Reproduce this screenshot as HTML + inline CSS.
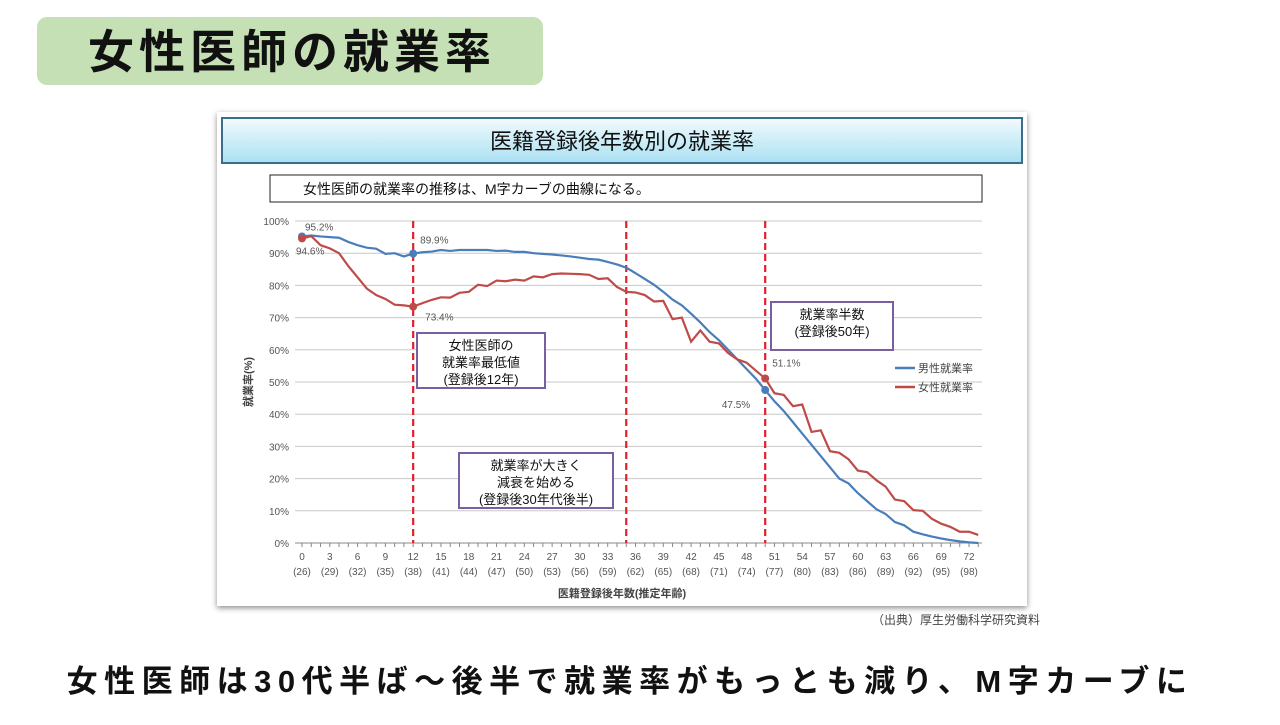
<!DOCTYPE html>
<html><head><meta charset="utf-8"><style>
body{margin:0;background:#fff;width:1280px;height:720px;overflow:hidden;font-family:"Liberation Sans","Noto Sans CJK JP",sans-serif}
</style></head><body>
<svg id="s" width="1280" height="720" xmlns="http://www.w3.org/2000/svg" font-family="Liberation Sans, Noto Sans CJK JP, sans-serif">
<defs>
<linearGradient id="hg" x1="0" y1="0" x2="0" y2="1"><stop offset="0" stop-color="#f2fbfe"/><stop offset="1" stop-color="#a9e0f2"/></linearGradient>
<filter id="sh" x="-5%" y="-5%" width="110%" height="110%"><feDropShadow dx="0" dy="2" stdDeviation="3" flood-color="#000" flood-opacity="0.45"/></filter>
</defs>
<rect x="37" y="17" width="506" height="68" rx="10" fill="#c5e0b4"/>
<text x="292" y="68" font-size="46" font-weight="bold" letter-spacing="5" text-anchor="middle" fill="#111">女性医師の就業率</text>
<rect x="217" y="112" width="810" height="494" fill="#fff" filter="url(#sh)"/>
<rect x="222" y="118" width="800" height="45" fill="url(#hg)" stroke="#3c6e8c" stroke-width="2"/>
<text x="622" y="149" font-size="22" text-anchor="middle" fill="#111">医籍登録後年数別の就業率</text>
<rect x="270" y="175" width="712" height="27" fill="#fff" stroke="#222" stroke-width="1"/>
<text x="303" y="194" font-size="14" fill="#111">女性医師の就業率の推移は、M字カーブの曲線になる。</text>
<g id="plot"></g>
<text x="1040" y="624" font-size="12" text-anchor="end" fill="#444">（出典）厚生労働科学研究資料</text>
<text x="630" y="692" font-size="31" font-weight="bold" letter-spacing="6.5" text-anchor="middle" fill="#111">女性医師は30代半ば～後半で就業率がもっとも減り、M字カーブに</text>
</svg>
<script>
const years=[];for(let i=0;i<=73;i++)years.push(i);
const maleRate=[95.2,95.5,95.2,95,94.8,93.5,92.5,91.7,91.4,89.8,90,89,89.9,90.3,90.5,91,90.7,91,91,91,91,90.7,90.8,90.4,90.4,90,89.8,89.6,89.3,89,88.6,88.2,88,87.3,86.5,85.5,83.8,82,80.2,78,75.6,73.8,71.2,68.5,65.5,63,60,57,54,51,47.5,44,41,37.5,34,30.5,27,23.5,20,18.5,15.5,13,10.5,9,6.5,5.5,3.5,2.7,2,1.4,0.9,0.5,0.2,0];
const femaleRate=[94.6,95.3,92.5,91.5,90,86,82.5,79,77,75.8,74,73.8,73.4,74.5,75.5,76.3,76.2,77.7,78,80.2,79.8,81.5,81.3,81.8,81.5,82.8,82.5,83.5,83.7,83.6,83.5,83.3,82,82.2,79.5,78,77.8,77,75,75.2,69.5,70,62.5,66,62.5,62,59,57,56,53.5,51.1,46.5,46,42.5,43,34.5,35,28.5,28,26,22.5,22,19.5,17.5,13.5,13,10.2,10,7.5,6,5,3.5,3.5,2.5];
const yTicks=[0,10,20,30,40,50,60,70,80,90,100];
const xTickYears=[0,3,6,9,12,15,18,21,24,27,30,33,36,39,42,45,48,51,54,57,60,63,66,69,72];
const xTickAges=[26,29,32,35,38,41,44,47,50,53,56,59,62,65,68,71,74,77,80,83,86,89,92,95,98];
const markerLines=[12,35,50];
const NS="http://www.w3.org/2000/svg";
const g=document.getElementById('plot');
const X=v=>302+v*(667/72);
const Y=v=>543-v*3.22;
function mk(t,a,p){const e=document.createElementNS(NS,t);for(const k in a)e.setAttribute(k,a[k]);(p||g).appendChild(e);return e;}
yTicks.forEach(t=>{
 const l=mk('line',{x1:295,x2:982,y1:Y(t),y2:Y(t),stroke:t===0?'#888':'#c8c8c8','stroke-width':1});
 
 
 const tx=mk('text',{x:289,y:Y(t)+4,'font-size':10,'text-anchor':'end',fill:'#555'});tx.textContent=t+'%';
 
 
});
years.forEach(v=>{const l=mk('line',{x1:X(v),x2:X(v),y1:543,y2:547,stroke:'#888'});
 
 });
xTickYears.forEach((v,i)=>{
 const a=mk('text',{x:X(v),y:560,'font-size':10,'text-anchor':'middle',fill:'#555'});a.textContent=v;
 
 
 const b=mk('text',{x:X(v),y:575,'font-size':10,'text-anchor':'middle',fill:'#555'});b.textContent='('+xTickAges[i]+')';
 
 
});
markerLines.forEach(v=>{const l=mk('line',{x1:X(v),x2:X(v),y1:221,y2:543,stroke:'#e0202a','stroke-width':2.2,'stroke-dasharray':'7,4'});
 
 });
function series(arr,color,name){
 const p=mk('polyline',{points:arr.map((v,i)=>X(years[i])+','+Y(v)).join(' '),fill:'none',stroke:color,'stroke-width':2.2});
 
 
}
series(maleRate,'#4a7ebb','male-rate-line');
series(femaleRate,'#be4b48','female-rate-line');
[[0,maleRate,'#4a7ebb'],[12,maleRate,'#4a7ebb'],[50,maleRate,'#4a7ebb'],[0,femaleRate,'#be4b48'],[12,femaleRate,'#be4b48'],[50,femaleRate,'#be4b48']].forEach(([i,a,c])=>{
 const d=mk('circle',{cx:X(i),cy:Y(a[i]),r:4,fill:c});
 
 
});
function lbl(x,y,t,anc){const e=mk('text',{x:x,y:y,'font-size':10,fill:'#555','text-anchor':anc||'start'});e.textContent=t;
 
 }
lbl(X(0)+3,Y(maleRate[0])-6,maleRate[0].toFixed(1)+'%');
lbl(X(0)-6,Y(femaleRate[0])+16,femaleRate[0].toFixed(1)+'%');
lbl(X(12)+7,Y(maleRate[12])-10,maleRate[12].toFixed(1)+'%');
lbl(X(12)+12,Y(femaleRate[12])+14,femaleRate[12].toFixed(1)+'%');
lbl(X(50)+7,Y(femaleRate[50])-12,femaleRate[50].toFixed(1)+'%');
lbl(X(50)-15,Y(maleRate[50])+18,maleRate[50].toFixed(1)+'%','end');
function box(x,y,w,h,lines,name){
 const r=mk('rect',{x:x,y:y,width:w,height:h,fill:'#fff',stroke:'#7a5fa0','stroke-width':2});
 
 
 lines.forEach((t,i)=>{const e=mk('text',{x:x+w/2,y:y+17+i*17,'font-size':13,'text-anchor':'middle',fill:'#111'});e.textContent=t;
  
  });
}
box(417,333,128,55,['女性医師の','就業率最低値','(登録後12年)'],'annotation-lowest');
box(459,453,154,55,['就業率が大きく','減衰を始める','(登録後30年代後半)'],'annotation-decline');
box(771,302,122,48,['就業率半数','(登録後50年)'],'annotation-half');
[['男性就業率','#4a7ebb',368],['女性就業率','#be4b48',387]].forEach(([t,c,y])=>{
 const l=mk('line',{x1:895,x2:915,y1:y,y2:y,stroke:c,'stroke-width':2.5});
 
 
 const e=mk('text',{x:918,y:y+4,'font-size':11,fill:'#444'});e.textContent=t;
 
 
});
const yt=mk('text',{x:0,y:0,'font-size':11,'font-weight':'bold',fill:'#444','text-anchor':'middle',transform:'translate(252,382) rotate(-90)'});yt.textContent='就業率(%)';


const xt=mk('text',{x:622,y:597,'font-size':11,'font-weight':'bold',fill:'#444','text-anchor':'middle'});xt.textContent='医籍登録後年数(推定年齢)';


</script>
</body></html>
